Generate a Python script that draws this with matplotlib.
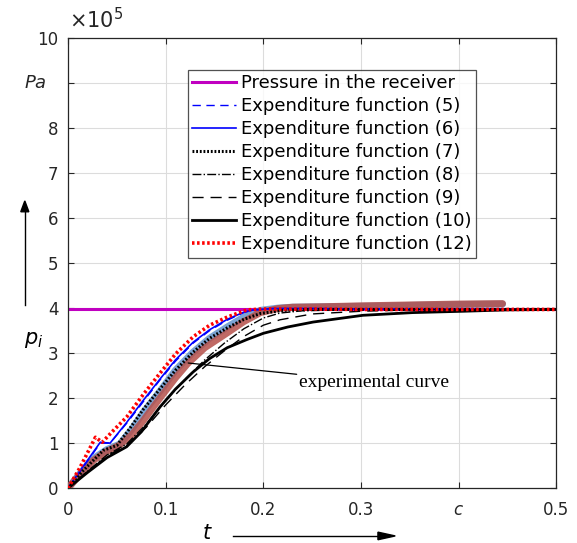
import matplotlib.pyplot as plt
import numpy as np

# pressure scale factor (values below in units of 1e5 Pa)
SCALE = 1e5

# receiver pressure
t_recv = [0.0, 0.5]
p_recv = [3.97, 3.97]

# experimental curves (two measured runs)
t_exp1 = [0.0, 0.012, 0.026, 0.04, 0.053, 0.065, 0.077, 0.094, 0.11, 0.123, 0.14, 0.163, 0.18, 0.197, 0.215, 0.23, 0.26, 0.3, 0.35, 0.4, 0.445]
p_exp1 = [0.0, 0.3, 0.62, 0.82, 0.96, 1.18, 1.5, 2.0, 2.45, 2.78, 3.12, 3.45, 3.7, 3.9, 3.99, 4.02, 4.03, 4.05, 4.07, 4.09, 4.1]
t_exp2 = [0.0, 0.012, 0.026, 0.04, 0.053, 0.065, 0.077, 0.094, 0.11, 0.128, 0.145, 0.163, 0.18, 0.197, 0.215, 0.23, 0.26, 0.3, 0.35, 0.4, 0.445]
p_exp2 = [0.0, 0.32, 0.66, 0.86, 0.98, 1.3, 1.68, 2.15, 2.62, 3.02, 3.33, 3.58, 3.8, 3.95, 4.0, 4.02, 4.03, 4.04, 4.06, 4.08, 4.09]

# expenditure functions
t_f5 = [0.0, 0.015, 0.033, 0.043, 0.06, 0.077, 0.094, 0.11, 0.128, 0.145, 0.163, 0.18, 0.19, 0.21, 0.25, 0.3, 0.5]
p_f5 = [0.0, 0.45, 1.0, 1.0, 1.44, 1.92, 2.4, 2.82, 3.22, 3.5, 3.73, 3.9, 3.96, 3.99, 3.99, 3.98, 3.97]
t_f6 = t_f5
p_f6 = [0.0, 0.47, 1.02, 1.0, 1.46, 1.95, 2.42, 2.85, 3.24, 3.52, 3.75, 3.91, 3.96, 3.99, 3.99, 3.98, 3.97]
t_f7 = [0.0, 0.015, 0.036, 0.05, 0.063, 0.077, 0.094, 0.11, 0.128, 0.145, 0.163, 0.18, 0.197, 0.22, 0.25, 0.3, 0.5]
p_f7 = [0.0, 0.38, 0.84, 0.95, 1.32, 1.75, 2.2, 2.62, 3.02, 3.33, 3.56, 3.75, 3.88, 3.95, 3.97, 3.97, 3.97]
t_f8 = [0.0, 0.02, 0.04, 0.06, 0.08, 0.1, 0.12, 0.14, 0.16, 0.18, 0.2, 0.217, 0.24, 0.28, 0.33, 0.4, 0.5]
p_f8 = [0.0, 0.38, 0.74, 0.98, 1.42, 1.95, 2.42, 2.85, 3.22, 3.54, 3.78, 3.89, 3.94, 3.96, 3.97, 3.97, 3.97]
t_f9 = [0.0, 0.02, 0.04, 0.06, 0.08, 0.1, 0.12, 0.14, 0.16, 0.18, 0.2, 0.217, 0.25, 0.3, 0.35, 0.4, 0.5]
p_f9 = [0.0, 0.36, 0.72, 0.95, 1.35, 1.85, 2.3, 2.7, 3.05, 3.37, 3.62, 3.74, 3.87, 3.93, 3.96, 3.97, 3.97]
t_f10 = [0.0, 0.02, 0.04, 0.06, 0.075, 0.094, 0.11, 0.128, 0.145, 0.163, 0.183, 0.2, 0.225, 0.251, 0.302, 0.353, 0.405, 0.45, 0.5]
p_f10 = [0.0, 0.35, 0.68, 0.92, 1.25, 1.8, 2.2, 2.58, 2.88, 3.12, 3.3, 3.44, 3.58, 3.69, 3.84, 3.9, 3.93, 3.96, 3.97]
t_f12 = [0.0, 0.012, 0.028, 0.035, 0.045, 0.06, 0.077, 0.094, 0.11, 0.128, 0.145, 0.163, 0.183, 0.2, 0.25, 0.3, 0.5]
p_f12 = [0.0, 0.45, 1.13, 1.02, 1.25, 1.58, 2.08, 2.55, 2.98, 3.36, 3.62, 3.8, 3.96, 3.98, 3.98, 3.97, 3.97]

fig = plt.figure(figsize=(5.77, 5.43), dpi=100)
ax = fig.add_axes([0.118, 0.101, 0.846, 0.829])

def s(vals):
    return np.array(vals) * SCALE

ax.plot(t_recv, s(p_recv), color='#c000c0', lw=2.2, label='Pressure in the receiver', zorder=2)

# measured data, drawn as thick translucent bands
ax.plot(t_exp2, s(p_exp2), color='#4f86c6', lw=5, alpha=0.75, solid_capstyle='round', zorder=3)
ax.plot(t_exp1, s(p_exp1), color='#b5504a', lw=5, alpha=0.85, solid_capstyle='round', zorder=3)

ax.plot(t_f5, s(p_f5), color='blue', lw=1.0, ls=(0, (6, 4)), label='Expenditure function (5)', zorder=4)
ax.plot(t_f6, s(p_f6), color='blue', lw=1.2, label='Expenditure function (6)', zorder=4)
ax.plot(t_f7, s(p_f7), color='black', lw=2.2, ls=(0, (0.6, 0.6)), label='Expenditure function (7)', zorder=4)
ax.plot(t_f8, s(p_f8), color='black', lw=1.0, ls='-.', label='Expenditure function (8)', zorder=4)
ax.plot(t_f9, s(p_f9), color='black', lw=1.0, ls=(0, (8, 5)), label='Expenditure function (9)', zorder=4)
ax.plot(t_f10, s(p_f10), color='black', lw=2.0, label='Expenditure function (10)', zorder=4)
ax.plot(t_f12, s(p_f12), color='red', lw=2.6, ls=(0, (0.7, 0.7)), label='Expenditure function (12)', zorder=5)

ax.set_xlim(0, 0.5)
ax.set_ylim(0, 10 * SCALE)
ax.set_xticks([0, 0.1, 0.2, 0.3, 0.4, 0.5])
ax.set_xticklabels(['0', '0.1', '0.2', '0.3', '$c$', '0.5'])
ax.set_yticks(np.arange(0, 11) * SCALE)
ax.set_yticklabels(['0', '1', '2', '3', '4', '5', '6', '7', '8', '', '10'])
ax.tick_params(direction='in', length=4, labelsize=12, labelcolor='#262626', colors='#262626',
               top=True, right=True)
ax.tick_params(axis='x', pad=9)
ax.tick_params(axis='y', pad=7)
for sp in ax.spines.values():
    sp.set_color('#262626')
    sp.set_linewidth(0.9)
ax.grid(True, color='#dcdcdc', lw=0.8)
ax.set_axisbelow(True)

# unit label in place of the 9 tick
fig.text(0.062, 0.848, '$Pa$', fontsize=13, color='#262626', ha='center', va='center')
fig.text(0.118 + 0.002, 0.94, r'$\times 10^5$', fontsize=15, color='#262626', ha='left', va='bottom')

leg = ax.legend(loc='upper left', bbox_to_anchor=(0.245, 0.93), fontsize=13, frameon=True, fancybox=False,
                handlelength=2.4, handletextpad=0.3, borderpad=0.25, labelspacing=0.28, borderaxespad=0)
leg.get_frame().set_edgecolor('#262626')
leg.get_frame().set_linewidth(0.9)

# annotation for the measured curves
ax.annotate('experimental curve', xy=(0.123, 2.78 * SCALE), xytext=(0.237, 2.35 * SCALE),
            fontsize=14, family='Liberation Serif', va='center', ha='left',
            arrowprops=dict(arrowstyle='-', color='black', lw=0.9, shrinkA=0, shrinkB=0))

# axis names with arrows
fig.text(0.058, 0.373, '$p_i$', fontsize=15, ha='center', va='center')
fig.add_artist(plt.Line2D([0.043, 0.043], [0.438, 0.62], color='black', lw=1.0, transform=fig.transFigure))
fig.patches.append(plt.Polygon([[0.036, 0.61], [0.050, 0.61], [0.043, 0.63]], closed=True, color='black',
                               transform=fig.transFigure, figure=fig))
fig.text(0.36, 0.018, '$t$', fontsize=15, ha='center', va='center')
fig.add_artist(plt.Line2D([0.403, 0.67], [0.013, 0.013], color='black', lw=1.0, transform=fig.transFigure))
fig.patches.append(plt.Polygon([[0.655, 0.006], [0.655, 0.02], [0.685, 0.013]], closed=True, color='black',
                               transform=fig.transFigure, figure=fig))

fig.savefig('out.png', dpi=100)
